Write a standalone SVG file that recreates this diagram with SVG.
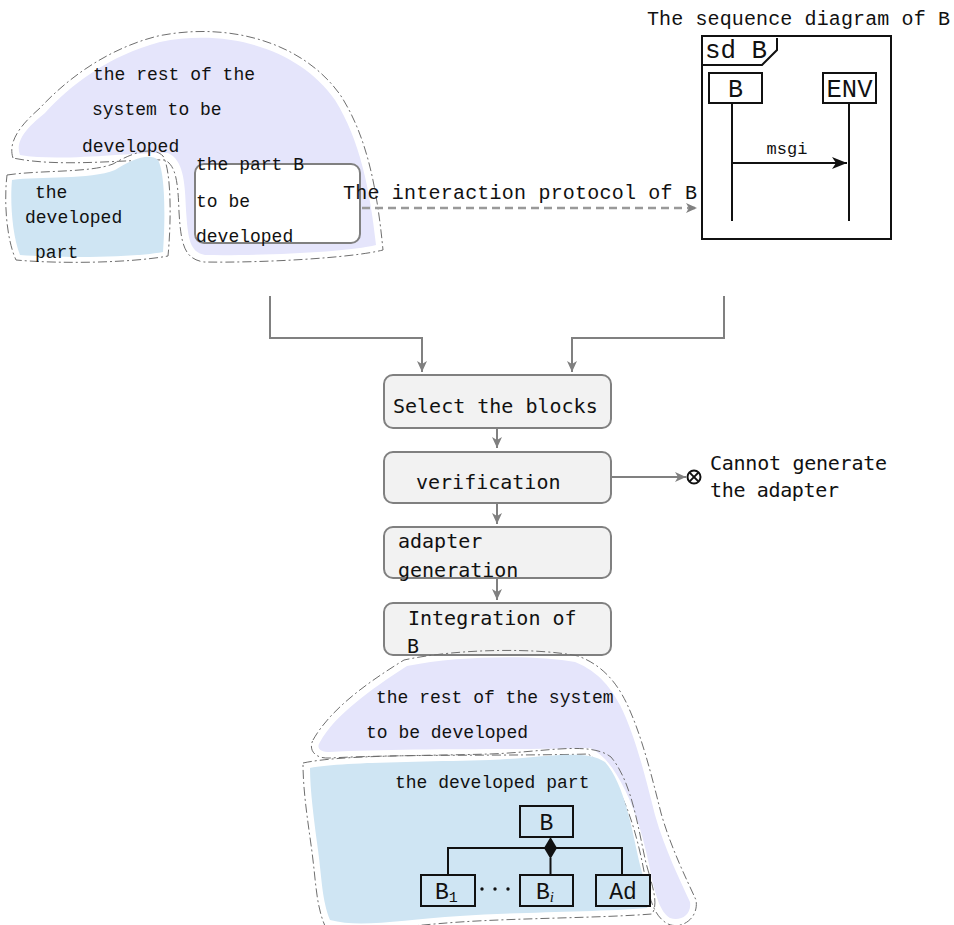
<svg xmlns="http://www.w3.org/2000/svg" width="954" height="925" viewBox="0 0 954 925">
  <style>
    .mono { font-family: "Liberation Mono", "DejaVu Sans Mono", monospace; font-size: 18px; fill: #111; }
    .lbl { font-family: "DejaVu Sans Mono", "Liberation Mono", monospace; font-size: 20px; fill: #111; }
    .seq { font-family: "Liberation Mono", "DejaVu Sans Mono", monospace; fill: #111; }
    .step { fill: #f2f2f2; stroke: #808080; stroke-width: 2; }
    .rest { fill: #e5e5fb; }
    .done { fill: #cfe5f3; }
    .edge { fill: none; stroke: #6e6e6e; stroke-width: 1; stroke-dasharray: 9 3 2 3; }
    .conn { fill: none; stroke: #808080; stroke-width: 2; }
    .blk { fill: none; stroke: #111; stroke-width: 2; }
    .cls { fill: #cfe5f3; stroke: #111; stroke-width: 2; }
  </style>
  <defs>
    <marker id="arrG" markerUnits="userSpaceOnUse" markerWidth="12" markerHeight="10" refX="11" refY="5" orient="auto">
      <path d="M0,0 L11,5 L0,10 L3,5 Z" fill="#808080"/>
    </marker>
    <marker id="arrK" markerUnits="userSpaceOnUse" markerWidth="16" markerHeight="12" refX="15" refY="6" orient="auto">
      <path d="M0,0 L15,6 L0,12 L4,6 Z" fill="#111"/>
    </marker>
  </defs>

  <!-- upper system sketch -->
  <g id="system-before">
    <path class="rest" d="M20,155 C14,140 30,125 45,113 C70,85 110,55 160,42 C230,28 300,50 335,100 C360,140 370,190 376,245 C350,252 260,256 205,255 C190,252 188,240 186,210 C185,180 183,160 168,153 C130,152 60,162 20,155 Z"/>
    <path class="edge" d="M13,158 C7,140 24,122 40,108 C66,80 106,49 158,36 C232,21 305,44 341,96 C367,137 377,188 383,250 C352,258 262,263 204,262 C184,259 181,244 179,212 C178,182 176,166 165,160 C128,159 60,168 13,158 Z"/>
    <path class="done" d="M12,180 C40,176 90,180 115,170 C130,160 150,152 158,160 C166,175 165,225 163,252 C130,258 60,258 20,255 C12,235 10,200 12,180 Z"/>
    <path class="edge" d="M7,175 C40,170 90,173 113,164 C130,154 152,145 163,156 C172,172 171,225 168,256 C130,263 60,264 16,260 C6,238 4,200 7,175 Z"/>
    <text class="mono" x="93" y="80">the rest of the</text>
    <text class="mono" x="92" y="115">system to be</text>
    <text class="mono" x="82" y="152">developed</text>
    <text class="mono" x="35" y="198">the</text>
    <text class="mono" x="25" y="223">developed</text>
    <text class="mono" x="35" y="258">part</text>
  </g>

  <g id="part-b">
    <rect x="195" y="164" width="165" height="79" rx="9" fill="#ffffff" stroke="#808080" stroke-width="2"/>
    <text class="mono" x="196" y="170">the part B</text>
    <text class="mono" x="196" y="207">to be</text>
    <text class="mono" x="196" y="242">developed</text>
  </g>

  <!-- sequence diagram of B -->
  <g id="sequence-diagram">
    <text class="seq" x="647" y="25" font-size="20" textLength="303" lengthAdjust="spacing">The sequence diagram of B</text>
    <rect x="702" y="36" width="189" height="203" fill="#ffffff" stroke="#111" stroke-width="2"/>
    <path class="blk" d="M702,65 L762,65 L777,50 L777,38"/>
    <text class="seq" x="705" y="58" font-size="25" textLength="62" lengthAdjust="spacingAndGlyphs">sd B</text>
    <rect x="709" y="73" width="53" height="30" fill="#ffffff" stroke="#111" stroke-width="2"/>
    <text class="seq" x="735.5" y="97" font-size="25" text-anchor="middle">B</text>
    <rect x="823" y="73" width="53" height="30" fill="#ffffff" stroke="#111" stroke-width="2"/>
    <text class="seq" x="849.5" y="97" font-size="25" text-anchor="middle" textLength="46" lengthAdjust="spacingAndGlyphs">ENV</text>
    <line class="blk" x1="732" y1="103" x2="732" y2="221"/>
    <line class="blk" x1="849" y1="103" x2="849" y2="221"/>
    <line class="blk" x1="732" y1="163" x2="847" y2="163" marker-end="url(#arrK)"/>
    <text class="seq" x="787" y="154" font-size="17" text-anchor="middle">msgi</text>
  </g>

  <!-- process steps -->
  <g id="step-select">
    <rect class="step" x="384" y="375" width="227" height="53" rx="9"/>
    <text class="lbl" x="393" y="413">Select the blocks</text>
  </g>
  <g id="step-verification">
    <rect class="step" x="384" y="452" width="227" height="51" rx="9"/>
    <text class="lbl" x="416" y="489">verification</text>
  </g>
  <g id="step-adapter">
    <rect class="step" x="384" y="527" width="227" height="51" rx="9"/>
    <text class="lbl" x="398" y="548">adapter</text>
    <text class="lbl" x="398" y="577">generation</text>
  </g>
  <g id="step-integration">
    <rect class="step" x="384" y="603" width="227" height="52" rx="9"/>
    <text class="lbl" x="408" y="625">Integration of</text>
    <text class="lbl" x="407" y="653">B</text>
  </g>
  <g id="failure">
    <circle cx="694" cy="477" r="6.5" fill="none" stroke="#111" stroke-width="2"/>
    <line x1="689.4" y1="472.4" x2="698.6" y2="481.6" stroke="#111" stroke-width="2"/>
    <line x1="698.6" y1="472.4" x2="689.4" y2="481.6" stroke="#111" stroke-width="2"/>
    <text class="lbl" x="710" y="470" textLength="177" lengthAdjust="spacing">Cannot generate</text>
    <text class="lbl" x="710" y="497" textLength="129" lengthAdjust="spacing">the adapter</text>
  </g>

  <!-- lower system sketch -->
  <g id="system-after">
    <path class="rest" d="M320,742 C335,715 370,690 407,666 C460,655 540,655 575,662 C600,672 612,690 620,705 C635,735 645,775 655,815 C665,850 680,880 690,902 C692,915 680,922 670,918 C660,912 656,895 652,880 C645,840 635,810 625,790 C615,770 605,755 590,748 C520,750 400,748 330,752 C320,752 316,748 320,742 Z"/>
    <path class="edge" d="M313,740 C330,710 365,684 404,660 C460,648 540,648 578,656 C605,666 618,686 626,702 C641,733 651,773 661,813 C671,848 686,878 696,900 C699,918 682,930 668,924 C653,916 650,897 646,882 C639,842 630,812 620,793 C610,774 600,761 588,754 C520,756 400,754 330,758 C315,759 308,750 313,740 Z"/>
    <path class="done" d="M310,768 C340,762 420,762 490,760 C540,758 585,748 605,762 C625,785 632,830 640,865 C645,885 652,900 647,908 C600,912 520,912 460,916 C400,920 360,928 330,920 C322,900 322,880 318,850 C314,820 310,790 310,768 Z"/>
    <path class="edge" d="M303,763 C340,755 420,756 490,754 C545,752 590,741 611,757 C632,782 638,828 646,863 C652,885 659,903 652,914 C600,918 520,918 460,922 C400,926 360,934 325,926 C316,905 316,882 312,852 C308,822 303,792 303,763 Z"/>
    <text class="mono" x="376" y="703">the rest of the system</text>
    <text class="mono" x="366" y="738">to be developed</text>
    <text class="mono" x="395" y="788">the developed part</text>
  </g>

  <!-- composition of B -->
  <g id="class-b">
    <rect class="cls" x="520" y="806" width="53" height="31"/>
    <text class="seq" x="546.5" y="830" font-size="23" text-anchor="middle">B</text>
  </g>
  <g id="class-b1">
    <rect class="cls" x="421" y="875" width="54" height="31"/>
    <text class="seq" x="435" y="899" font-size="23">B<tspan font-size="15" dy="3">1</tspan></text>
  </g>
  <g id="class-bi">
    <rect class="cls" x="520" y="875" width="53" height="31"/>
    <text class="seq" x="536" y="899" font-size="23">B<tspan font-size="15" dy="3" font-style="italic" font-family="Liberation Serif, serif">i</tspan></text>
  </g>
  <g id="class-ad">
    <rect class="cls" x="596" y="875" width="54" height="31"/>
    <text class="seq" x="623" y="899" font-size="23" text-anchor="middle">Ad</text>
  </g>
  <g id="ellipsis">
    <circle cx="482" cy="889" r="1.7" fill="#111"/>
    <circle cx="495" cy="889" r="1.7" fill="#111"/>
    <circle cx="508" cy="889" r="1.7" fill="#111"/>
  </g>

  <!-- connectors -->
  <g id="connectors">
    <line x1="362" y1="208" x2="697" y2="208" stroke="#999" stroke-width="2.5" stroke-dasharray="8 5" marker-end="url(#arrG)"/>
    <text class="seq" x="343" y="199" font-size="20" textLength="354" lengthAdjust="spacing">The interaction protocol of B</text>
    <path class="conn" d="M270,296 L270,338 L422,338 L422,372" marker-end="url(#arrG)"/>
    <path class="conn" d="M724,296 L724,338 L572,338 L572,372" marker-end="url(#arrG)"/>
    <line class="conn" x1="497" y1="428" x2="497" y2="448" marker-end="url(#arrG)"/>
    <line class="conn" x1="497" y1="503" x2="497" y2="524" marker-end="url(#arrG)"/>
    <line class="conn" x1="497" y1="578" x2="497" y2="600" marker-end="url(#arrG)"/>
    <line class="conn" x1="611" y1="477" x2="686" y2="477" marker-end="url(#arrG)"/>
    <path class="blk" d="M448,875 L448,848 L622,848 L622,875"/>
    <line class="blk" x1="550.5" y1="858" x2="550.5" y2="875"/>
    <path d="M550.5,837 L557,848 L550.5,859 L544,848 Z" fill="#111"/>
  </g>
</svg>
